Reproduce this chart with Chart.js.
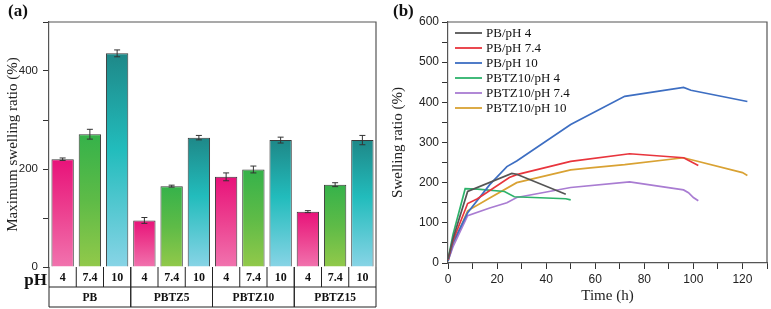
<!DOCTYPE html>
<html><head><meta charset="utf-8">
<script src="https://cdn.jsdelivr.net/npm/chart.js@4.4.1/dist/chart.umd.min.js"></script>
<style>
html,body{margin:0;padding:0;background:#fff;width:771px;height:309px;overflow:hidden;}
#wa{position:absolute;left:0;top:0;width:390px;height:309px;}
#wb{position:absolute;left:385px;top:0;width:386px;height:309px;}
</style></head><body>
<div id="wa"><canvas id="ca" width="390" height="309"></canvas></div>
<div id="wb"><canvas id="cb" width="386" height="309"></canvas></div>
<script>
// ---------- Panel (a) data ----------
const groups = ['PB', 'PBTZ5', 'PBTZ10', 'PBTZ15'];
const phLabels = ['4', '7.4', '10'];
const ph4 = [220, 95, 184, 113];
const ph74 = [271, 165, 199, 168];
const ph10 = [436, 264, 259, 259];
const err4 = [2.5, 6, 8, 2];
const err74 = [10, 2, 7, 4];
const err10 = [7, 4.5, 6, 9.5];
const yTicksA = [0, 200, 400];

// ---------- Panel (b) data ----------
const seriesNames = ['PB/pH 4', 'PB/pH 7.4', 'PB/pH 10', 'PBTZ10/pH 4', 'PBTZ10/pH 7.4', 'PBTZ10/pH 10'];
const pb4T = [0, 2, 8, 26, 28, 48];
const pb4V = [10, 60, 178, 223, 221, 171];
const pb74T = [0, 2, 8, 12, 25, 28, 50, 74, 96, 102];
const pb74V = [8, 55, 148, 160, 213, 220, 253, 272, 262, 243];
const pb10T = [0, 2, 8, 17, 24, 28, 50, 72, 96, 99, 122];
const pb10V = [5, 50, 125, 195, 240, 254, 345, 415, 437, 430, 402];
const tz4T = [0, 2, 7, 12, 23, 27, 48, 50];
const tz4V = [8, 70, 185, 184, 178, 165, 160, 157];
const tz74T = [0, 2, 8, 17, 24, 28, 50, 74, 96, 98, 100, 102];
const tz74V = [5, 40, 118, 137, 150, 163, 188, 202, 182, 175, 163, 155];
const tz10T = [0, 2, 8, 17, 28, 50, 58, 72, 96, 120, 122];
const tz10V = [5, 45, 130, 162, 200, 232, 237, 245, 262, 225, 218];
const xTicksB = [0, 20, 40, 60, 80, 100, 120];
const yTicksB = [0, 100, 200, 300, 400, 500, 600];

const SERIF = '"Liberation Serif","Times New Roman",serif';
const SANS = '"Liberation Sans",Arial,sans-serif';
const AX = '#333';

function grad(stops) {
  return (ctx) => {
    const c = ctx.chart, ys = c.scales && c.scales.y;
    if (!c.chartArea || !ys || ctx.raw == null) return stops[0][1];
    const top = ys.getPixelForValue(ctx.raw), bot = ys.getPixelForValue(0);
    const g = c.ctx.createLinearGradient(0, top, 0, bot);
    stops.forEach(s => g.addColorStop(s[0], s[1]));
    return g;
  };
}
const pinkG = grad([[0, '#E8127A'], [0.45, '#EC3D8E'], [1, '#F173AE']]);
const greenG = grad([[0, '#35B24A'], [0.5, '#5EBB47'], [1, '#92C94A']]);
const tealG = grad([[0, '#1E8888'], [0.45, '#22BCBC'], [1, '#88D4E6']]);

const errs = [err4, err74, err10];

const panelA = {
  id: 'panelA',
  afterDatasetsDraw(chart) {
    const c = chart.ctx, ys = chart.scales.y;
    c.save();
    c.strokeStyle = '#333'; c.lineWidth = 1;
    chart.data.datasets.forEach((ds, d) => {
      const meta = chart.getDatasetMeta(d);
      meta.data.forEach((bar, i) => {
        const v = ds.data[i], e = errs[d][i];
        const y1 = ys.getPixelForValue(v + e), y2 = ys.getPixelForValue(v - e);
        c.beginPath();
        c.moveTo(bar.x, y1); c.lineTo(bar.x, y2);
        c.moveTo(bar.x - 3, y1); c.lineTo(bar.x + 3, y1);
        c.moveTo(bar.x - 3, y2); c.lineTo(bar.x + 3, y2);
        c.stroke();
      });
    });
    c.restore();
  },
  afterDraw(chart) {
    const c = chart.ctx, a = chart.chartArea, xs = chart.scales.x;
    c.save();
    // frame top/right
    c.strokeStyle = '#555'; c.lineWidth = 1.2;
    c.beginPath();
    c.moveTo(a.left, a.top); c.lineTo(a.right, a.top); c.lineTo(a.right, a.bottom);
    c.stroke();
    // table
    const r1 = a.bottom, r2 = a.bottom + 20, r3 = a.bottom + 40;
    c.strokeStyle = '#222'; c.lineWidth = 1;
    c.beginPath();
    c.moveTo(a.left, r2); c.lineTo(a.right, r2);
    c.moveTo(a.left, r3); c.lineTo(a.right, r3);
    const cw = xs.width / groups.length;
    c.fillStyle = '#111';
    c.textAlign = 'center'; c.textBaseline = 'middle';
    groups.forEach((g, i) => {
      const cx = xs.getPixelForValue(i);
      const g0 = cx - cw / 2, g1 = cx + cw / 2;
      c.moveTo(g0, r1); c.lineTo(g0, r3);
      c.moveTo(g1, r1); c.lineTo(g1, r3);
      for (let j = 1; j < 3; j++) {
        const xx = g0 + j * cw / 3;
        c.moveTo(xx, r1); c.lineTo(xx, r2);
      }
      c.font = 'bold 12px ' + SERIF;
      phLabels.forEach((p, j) => c.fillText(p, g0 + (j + 0.5) * cw / 3, (r1 + r2) / 2 + 1));
      c.font = 'bold 11.5px ' + SERIF;
      c.fillText(g, cx, (r2 + r3) / 2 + 1);
    });
    c.stroke();
    c.font = 'bold 17px ' + SERIF;
    c.textAlign = 'right';
    c.fillText('pH', a.left - 2, r1 + 14);
    // panel label
    c.textAlign = 'left';
    c.fillText('(a)', 8, 12);
    c.restore();
  }
};

new Chart(document.getElementById('ca'), {
  type: 'bar',
  data: {
    labels: groups,
    datasets: [
      { label: phLabels[0], data: ph4, backgroundColor: pinkG },
      { label: phLabels[1], data: ph74, backgroundColor: greenG },
      { label: phLabels[2], data: ph10, backgroundColor: tealG }
    ].map(d => Object.assign(d, { borderColor: '#3a3a3a', borderWidth: 1, categoryPercentage: 1, barPercentage: 0.82 }))
  },
  options: {
    responsive: false, animation: false, devicePixelRatio: 1,
    layout: { padding: { left: 0, top: 22, right: 14, bottom: 42 } },
    plugins: { legend: { display: false }, tooltip: { enabled: false } },
    scales: {
      x: {
        ticks: { display: false },
        grid: { display: false },
        border: { display: false },
        afterFit(s) { s.height = 0; }
      },
      y: {
        min: 0, max: 500,
        afterFit(s) { s.width = 49; },
        ticks: {
          stepSize: 100, color: '#222', padding: 5,
          font: { family: SANS, size: 11.5 },
          callback: (v) => yTicksA.includes(v) ? String(v) : ''
        },
        grid: { drawOnChartArea: false, drawTicks: true, tickLength: 6, color: AX },
        border: { display: true, color: '#555', width: 1.2 },
        title: { display: true, text: 'Maximum swelling ratio (%)', color: '#222', font: { family: SERIF, size: 15 } }
      }
    }
  },
  plugins: [panelA]
});

// ---------- Panel (b) ----------
const colorsB = ['#555555', '#E8353D', '#3D6EC2', '#2DB36B', '#A97CD2', '#D9A233'];
const timesB = [pb4T, pb74T, pb10T, tz4T, tz74T, tz10T];
const valsB = [pb4V, pb74V, pb10V, tz4V, tz74V, tz10V];

const panelB = {
  id: 'panelB',
  afterDraw(chart) {
    const c = chart.ctx, a = chart.chartArea;
    c.save();
    c.strokeStyle = '#555'; c.lineWidth = 1.2;
    c.beginPath();
    c.moveTo(a.left, a.top); c.lineTo(a.right, a.top); c.lineTo(a.right, a.bottom);
    c.stroke();
    // legend
    c.font = '13px ' + SERIF;
    c.textBaseline = 'middle'; c.textAlign = 'left';
    chart.data.datasets.forEach((ds, i) => {
      const y = a.top + 11 + i * 15;
      c.strokeStyle = ds.borderColor; c.lineWidth = 1.8;
      c.beginPath(); c.moveTo(a.left + 7, y); c.lineTo(a.left + 34, y); c.stroke();
      c.fillStyle = '#111';
      c.fillText(ds.label, a.left + 38, y + 1);
    });
    c.font = 'bold 17px ' + SERIF;
    c.fillText('(b)', 8, 12);
    c.restore();
  }
};

new Chart(document.getElementById('cb'), {
  type: 'line',
  data: {
    datasets: seriesNames.map((n, i) => ({
      label: n,
      data: timesB[i].map((t, k) => ({ x: t, y: valsB[i][k] })),
      borderColor: colorsB[i], borderWidth: 1.7, pointRadius: 0, tension: 0, fill: false
    }))
  },
  options: {
    responsive: false, animation: false, devicePixelRatio: 1,
    layout: { padding: { left: 0, top: 22, right: 4, bottom: 0 } },
    plugins: { legend: { display: false }, tooltip: { enabled: false } },
    scales: {
      x: {
        type: 'linear', min: 0, max: 130,
        afterFit(s) { s.height = 46; },
        ticks: {
          stepSize: 10, color: '#222', padding: 3, maxRotation: 0, autoSkip: false,
          font: { family: SANS, size: 12 },
          callback: (v) => xTicksB.includes(v) ? String(v) : ''
        },
        grid: { drawOnChartArea: false, drawTicks: true, tickLength: 6, color: AX },
        border: { display: true, color: '#555', width: 1.2 },
        title: { display: true, text: 'Time (h)', color: '#222', font: { family: SERIF, size: 15 }, padding: { top: 2, bottom: 4 } }
      },
      y: {
        min: 0, max: 600,
        afterFit(s) { s.width = 63; },
        ticks: {
          stepSize: 50, color: '#222', padding: 3, autoSkip: false,
          font: { family: SANS, size: 12 },
          callback: (v) => yTicksB.includes(v) ? String(v) : ''
        },
        grid: { drawOnChartArea: false, drawTicks: true, tickLength: 6, color: AX },
        border: { display: true, color: '#555', width: 1.2 },
        title: { display: true, text: 'Swelling ratio (%)', color: '#222', font: { family: SERIF, size: 15 } }
      }
    }
  },
  plugins: [panelB]
});
</script>
</body></html>
